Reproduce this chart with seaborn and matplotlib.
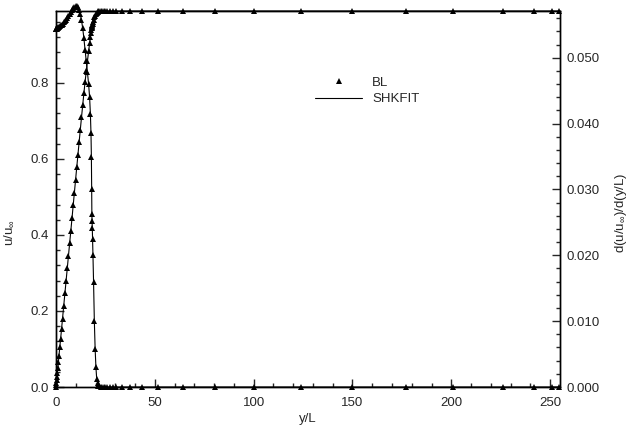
import numpy as np
import pandas as pd
import seaborn as sns
import matplotlib
matplotlib.use("Agg")
import matplotlib.pyplot as plt
from matplotlib.lines import Line2D
from matplotlib.ticker import MultipleLocator, FormatStrFormatter

# ---- data ----
y_over_L = [0, 0.1, 0.2, 0.35, 0.5, 0.7, 0.9, 1.2, 1.5, 1.9, 2.3, 2.8, 3.3, 3.9, 4.5,
            5.1, 5.7, 6.3, 6.9, 7.5, 8.1, 8.7, 9.3, 9.9, 10.5, 11.1, 11.7, 12.3, 12.9,
            13.5, 14.1, 14.7, 15.3, 15.9, 16.5, 17.0, 17.4, 17.7, 17.9, 18.05, 18.15,
            18.25, 18.35, 18.5, 18.7, 19.0, 19.4, 19.8, 20.2, 20.6, 21.0, 21.5, 22.0,
            22.6, 23.3, 24.1, 25.0, 26.0, 27.2, 28.6, 30.3, 33.3, 37.4, 43.4, 51.5,
            64.1, 80.3, 100, 124, 150, 177, 201, 226, 242, 251, 254.5]

u_ratio = [0, 0.0055, 0.011, 0.019, 0.027, 0.038, 0.049, 0.065, 0.082, 0.104, 0.125,
           0.152, 0.180, 0.213, 0.246, 0.279, 0.312, 0.345, 0.378, 0.411, 0.444, 0.478,
           0.511, 0.545, 0.578, 0.611, 0.644, 0.677, 0.709, 0.741, 0.772, 0.802, 0.830,
           0.857, 0.883, 0.904, 0.920, 0.932, 0.939, 0.944, 0.947, 0.950, 0.952, 0.956,
           0.960, 0.966, 0.972, 0.977, 0.981, 0.984, 0.986, 0.988, 0.989,
           0.989, 0.989, 0.989, 0.989, 0.989, 0.989, 0.989, 0.989, 0.989, 0.989, 0.989,
           0.989, 0.989, 0.989, 0.989, 0.989, 0.989, 0.989, 0.989, 0.989, 0.989, 0.989,
           0.989]

du_dy = [0.0544, 0.0544, 0.0544, 0.0544, 0.0545, 0.0545, 0.0545, 0.0546, 0.0547, 0.0548,
         0.0549, 0.0550, 0.0552, 0.0554, 0.0556, 0.0558, 0.0561, 0.0564, 0.0567, 0.0570,
         0.0573, 0.0575, 0.0577, 0.0578, 0.0578, 0.0577, 0.0573, 0.0566, 0.0557, 0.0545,
         0.0530, 0.0512, 0.0495, 0.0478, 0.0460, 0.0440, 0.0415, 0.0385, 0.0350, 0.0300,
         0.0262, 0.0252, 0.0242, 0.0225, 0.0200, 0.0160, 0.0100, 0.0058, 0.0030, 0.0012,
         0.0006, 0.0002, 0.0001,
         0, 0, 0, 0, 0, 0, 0, 0, 0, 0, 0, 0, 0, 0, 0, 0, 0, 0, 0, 0, 0, 0, 0]

x_ticks = [0, 50, 100, 150, 200, 250]
left_ticks = [0.0, 0.2, 0.4, 0.6, 0.8]
right_ticks = [0.000, 0.010, 0.020, 0.030, 0.040, 0.050]

df = pd.DataFrame({"y": y_over_L, "u": u_ratio, "du": du_dy})

# ---- style ----
sns.set_style("ticks")
plt.rcParams['font.family'] = ['Liberation Sans', 'DejaVu Sans']
plt.rcParams['mathtext.fontset'] = 'custom'
plt.rcParams['mathtext.rm'] = 'Liberation Sans'
plt.rcParams['mathtext.it'] = 'Liberation Sans'
plt.rcParams['mathtext.default'] = 'regular'

fig = plt.figure(figsize=(6.31, 4.34), dpi=100)
ax = fig.add_axes([56/631, 1-387/434, (560-56)/631, (387-11)/434])
ax2 = ax.twinx()

line_kw = dict(color="black", linewidth=0.8, marker="^", markersize=4.2,
               markeredgewidth=0, sort=False, estimator=None, legend=False)
sns.lineplot(data=df, x="y", y="u", ax=ax, clip_on=False, **line_kw)
sns.lineplot(data=df, x="y", y="du", ax=ax2, clip_on=False, **line_kw)

ax.set_xlim(0, 255)
ax.set_ylim(0, 0.989)
ax2.set_ylim(0, 0.0571)

ax.set_xticks(x_ticks)
ax.set_yticks(left_ticks)
ax2.set_yticks(right_ticks)
ax.xaxis.set_minor_locator(MultipleLocator(10))
ax.yaxis.set_minor_locator(MultipleLocator(0.04))
ax2.yaxis.set_minor_locator(MultipleLocator(0.002))
ax.yaxis.set_major_formatter(FormatStrFormatter('%.1f'))
ax2.yaxis.set_major_formatter(FormatStrFormatter('%.3f'))

for a in (ax, ax2):
    for s in a.spines.values():
        s.set_linewidth(1.0)
        s.set_visible(True)
        s.set_color("black")

ax.tick_params(axis='x', which='major', direction='in', length=6, width=1, pad=7,
               labelsize=9.5, top=False)
ax.tick_params(axis='x', which='minor', direction='in', length=3, width=1, top=False)
ax.tick_params(axis='y', which='major', direction='in', length=6, width=1, pad=5,
               labelsize=9.5, right=False)
ax.tick_params(axis='y', which='minor', direction='in', length=3, width=1, right=False)
ax2.tick_params(axis='y', which='major', direction='in', length=6, width=1, pad=5,
                labelsize=9.5)
ax2.tick_params(axis='y', which='minor', direction='in', length=3, width=1)

ax.set_xlabel("y/L", fontsize=9.5, labelpad=3)
ax.set_ylabel(r"u/u$_{\infty}$", fontsize=9.5)
ax2.set_ylabel(r"d(u/u$_{\infty}$)/d(y/L)", fontsize=9.5)
ax.yaxis.set_label_coords((16 - 56) / 504, (387 - 233) / 376)
ax2.yaxis.set_label_coords((613 - 56) / 504, (387 - 213) / 376)

handles = [Line2D([], [], color="black", marker="^", linestyle="none",
                  markersize=4.2, markeredgewidth=0),
           Line2D([], [], color="black", linewidth=0.8)]
leg = ax.legend(handles, ["BL", "SHKFIT"], loc="upper left",
                bbox_to_anchor=(247/504, 1-54/376), frameon=False, fontsize=9.5,
                handlelength=3.6, handletextpad=0.75, labelspacing=0.3)

fig.savefig("out.png", dpi=100)
